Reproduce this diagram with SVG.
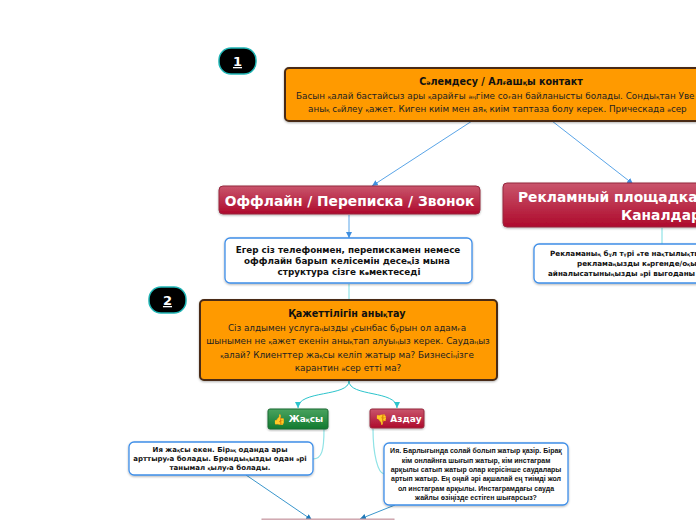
<svg xmlns="http://www.w3.org/2000/svg" width="696" height="520" viewBox="0 0 696 520">
<defs>
<linearGradient id="red" x1="0" y1="0" x2="0" y2="1"><stop offset="0" stop-color="#c9556c"/><stop offset="1" stop-color="#ae0a2c"/></linearGradient>
<linearGradient id="green" x1="0" y1="0" x2="0" y2="1"><stop offset="0" stop-color="#4aa35f"/><stop offset="1" stop-color="#117a2f"/></linearGradient>
<filter id="sh" x="-5%" y="-10%" width="110%" height="125%"><feDropShadow dx="0" dy="1" stdDeviation="1" flood-color="#000" flood-opacity="0.3"/></filter>
<marker id="ab" markerWidth="7" markerHeight="7" refX="6" refY="3" orient="auto" markerUnits="userSpaceOnUse"><path d="M0,0 L6,3 L0,6 Z" fill="#3f8fe0"/></marker>
<marker id="at" markerWidth="7" markerHeight="7" refX="6" refY="3" orient="auto" markerUnits="userSpaceOnUse"><path d="M0,0 L6,3 L0,6 Z" fill="#2cc4cc"/></marker>
<marker id="ad" markerWidth="7" markerHeight="7" refX="6" refY="3" orient="auto" markerUnits="userSpaceOnUse"><path d="M0,0 L6,3 L0,6 Z" fill="#1f78b8"/></marker>
</defs>
<style>
text{font-family:"DejaVu Sans","Liberation Sans",sans-serif;text-anchor:middle;fill:#111}
.k{font-size:65%}
.badge{fill:#000;stroke:#1fb5b5;stroke-width:1.5}
.badget{fill:#fff;font-weight:bold;font-size:13px;text-decoration:underline}
.main{fill:#ff9a00;stroke:#4a2c14;stroke-width:2;filter:url(#sh)}
.mt{font-weight:bold;font-size:9.600px}
.mb{font-size:8.8px;fill:#222}
.red{fill:url(#red);stroke:#96283f;stroke-width:1;filter:url(#sh)}
.white{fill:#fff;stroke:#3f8fe8;stroke-width:1.3;filter:url(#sh)}
.wt{font-weight:bold;font-size:8.800px}
.wn{font-weight:bold;font-size:7.200px}
.wg{font-weight:bold;font-size:7px}
.ws{font-family:"Liberation Sans",sans-serif;font-weight:bold;font-size:7px}
.ht{fill:#fff;font-weight:bold;font-size:13.800px}
.st{fill:#fff;font-weight:bold;font-size:9px}
.ic{font-size:10px}
.lb{fill:none;stroke:#5aa5e8;stroke-width:1}
.lt{fill:none;stroke:#8fe3e6;stroke-width:1.2}
.ltd{fill:none;stroke:#2cc4cc;stroke-width:1}
.ld{fill:none;stroke:#3a96cc;stroke-width:1}
</style>
<g id="connectors">
<path class="lb" d="M472,121 L372,186" marker-end="url(#ab)"/>
<path class="lb" d="M552,121 L633,184" marker-end="url(#ab)"/>
<path class="lb" d="M349,215 L349,238" marker-end="url(#ab)"/>
<path class="lt" d="M349,284 L349,299"/>
<path class="lt" d="M662,228 L662,244"/>
<path class="ltd" d="M349,381 C349,397 298,390 298,408" marker-end="url(#at)"/>
<path class="ltd" d="M349,381 C349,397 397,390 397,408" marker-end="url(#at)"/>
<path class="lt" d="M324,429 C324,450 322,459 313,459"/>
<path class="lt" d="M373,429 C373,455 378,473 384,474"/>
<path class="ld" d="M246,475 L312,520" marker-end="url(#ad)"/>
<path class="ld" d="M395,505 L360,519" marker-end="url(#ad)"/>
</g>
<g id="badge1"><rect class="badge" x="219" y="48" width="37" height="26" rx="12"/><text class="badget" x="237.500" y="66">1</text></g>
<g id="badge2"><rect class="badge" x="149" y="287" width="37" height="26" rx="12"/><text class="badget" x="167.500" y="305">2</text></g>
<g id="n-greeting"><rect class="main" x="285" y="68" width="430" height="53" rx="4"/>
<text class="mt" x="501" y="85">С<tspan class="k">ә</tspan>лемдесу / Ал<tspan class="k">ғ</tspan>аш<tspan class="k">қ</tspan>ы контакт</text>
<text class="mb" x="296" y="99" style="text-anchor:start">Басын <tspan class="k">қ</tspan>алай бастайсыз ары <tspan class="k">қ</tspan>арайғы <tspan class="k">әң</tspan>гіме со<tspan class="k">ғ</tspan>ан байланысты болады. Сонды<tspan class="k">қ</tspan>тан Уве</text>
<text class="mb" x="308" y="112" style="text-anchor:start">аны<tspan class="k">қ</tspan> с<tspan class="k">ө</tspan>йлеу <tspan class="k">қ</tspan>ажет. Киген киім мен ая<tspan class="k">қ</tspan> киім таптаза болу керек. Прическада <tspan class="k">ә</tspan>сер</text></g>
<g id="n-offline"><rect class="red" x="219" y="186" width="261" height="28" rx="4"/><text class="ht" x="349.500" y="206">Оффлайн / Переписка / Звонок</text></g>
<g id="n-offline-note"><rect class="white" x="225" y="238" width="247" height="45" rx="5"/>
<text class="wt" x="348" y="253">Егер сіз телефонмен, перепискамен немесе</text>
<text class="wt" x="347" y="264">оффлайн барып келісемін десе<tspan class="k">ң</tspan>із мына</text>
<text class="wt" x="349" y="275">структура сізге к<tspan class="k">ө</tspan>мектеседі</text></g>
<g id="n-ad"><rect class="red" x="503" y="183" width="240" height="44" rx="4"/>
<text class="ht" x="518" y="202" style="text-anchor:start">Рекламный площадка</text>
<text class="ht" x="621" y="220" style="text-anchor:start">Каналдар</text></g>
<g id="n-ad-note"><rect class="white" x="534" y="244" width="220" height="39" rx="5"/>
<text class="wn" x="550" y="256" style="text-anchor:start">Рекламаны<tspan class="k">ң</tspan> б<tspan class="k">ұ</tspan>л т<tspan class="k">ү</tspan>рі <tspan class="k">ө</tspan>те на<tspan class="k">қ</tspan>тылы<tspan class="k">қ</tspan>ты</text>
<text class="wn" x="577" y="266" style="text-anchor:start">реклама<tspan class="k">ң</tspan>ызды к<tspan class="k">ө</tspan>ргенде/о<tspan class="k">қ</tspan>ы</text>
<text class="wn" x="548" y="276" style="text-anchor:start">айналысатыны<tspan class="k">ң</tspan>ызды <tspan class="k">ә</tspan>рі выгоданы</text></g>
<g id="n-need"><rect class="main" x="200" y="300" width="297" height="80" rx="4"/>
<text class="mt" x="347" y="317">Қажеттілігін аны<tspan class="k">қ</tspan>тау</text>
<text class="mb" x="347" y="331">Сіз алдымен услуга<tspan class="k">ң</tspan>ызды <tspan class="k">ұ</tspan>сынбас б<tspan class="k">ұ</tspan>рын ол адам<tspan class="k">ғ</tspan>а</text>
<text class="mb" x="348" y="344">шынымен не <tspan class="k">қ</tspan>ажет екенін аны<tspan class="k">қ</tspan>тап алуы<tspan class="k">ң</tspan>ыз керек. Сауда<tspan class="k">ң</tspan>ыз</text>
<text class="mb" x="347" y="358"><tspan class="k">қ</tspan>алай? Клиенттер жа<tspan class="k">қ</tspan>сы келіп жатыр ма? Бизнесі<tspan class="k">ң</tspan>ізге</text>
<text class="mb" x="348" y="371">карантин <tspan class="k">ә</tspan>сер етті ма?</text></g>
<g id="n-good"><rect x="268" y="409" width="60" height="20" rx="2" fill="url(#green)" stroke="#1a6b33" filter="url(#sh)"/>
<text class="ic" x="279" y="423">👍</text><text class="st" x="306" y="422">Жа<tspan class="k">қ</tspan>сы</text></g>
<g id="n-bad"><rect class="red" x="370" y="409" width="54" height="19" rx="2"/>
<text class="ic" x="381" y="423">👎</text><text class="st" x="406" y="422">Аздау</text></g>
<g id="n-good-note"><rect class="white" x="129" y="442" width="184" height="33" rx="5"/>
<text class="wg" x="220" y="452">Ия жа<tspan class="k">қ</tspan>сы екен. Бір<tspan class="k">а</tspan><tspan class="k">қ</tspan> оданда ары</text>
<text class="wg" x="220" y="461">арттыру<tspan class="k">ғ</tspan>а болады. Бренды<tspan class="k">ң</tspan>ызды одан <tspan class="k">ә</tspan>рі</text>
<text class="wg" x="220" y="470">танымал <tspan class="k">қ</tspan>ылу<tspan class="k">ғ</tspan>а болады.</text></g>
<g id="n-bad-note"><rect class="white" x="384" y="443" width="184" height="62" rx="5"/>
<text class="ws" x="476" y="453">Ия. Барлығында солай болып жатыр қазір. Бірақ</text>
<text class="ws" x="476" y="463">кім онлайнға шығып жатыр, кім инстаграм</text>
<text class="ws" x="476" y="472">арқылы сатып жатыр олар керісінше саудалары</text>
<text class="ws" x="476" y="481">артып жатыр. Ең оңай әрі ақшалай ең тиімді жол</text>
<text class="ws" x="476" y="491">ол инстаграм арқылы. Инстаграмдағы сауда</text>
<text class="ws" x="476" y="500">жайлы өзіңізде естіген шығарсыз?</text></g>
<g id="n-next"><rect x="262" y="519" width="132" height="6" fill="#d9b4bc" stroke="#c9a0a8"/></g>
</svg>
